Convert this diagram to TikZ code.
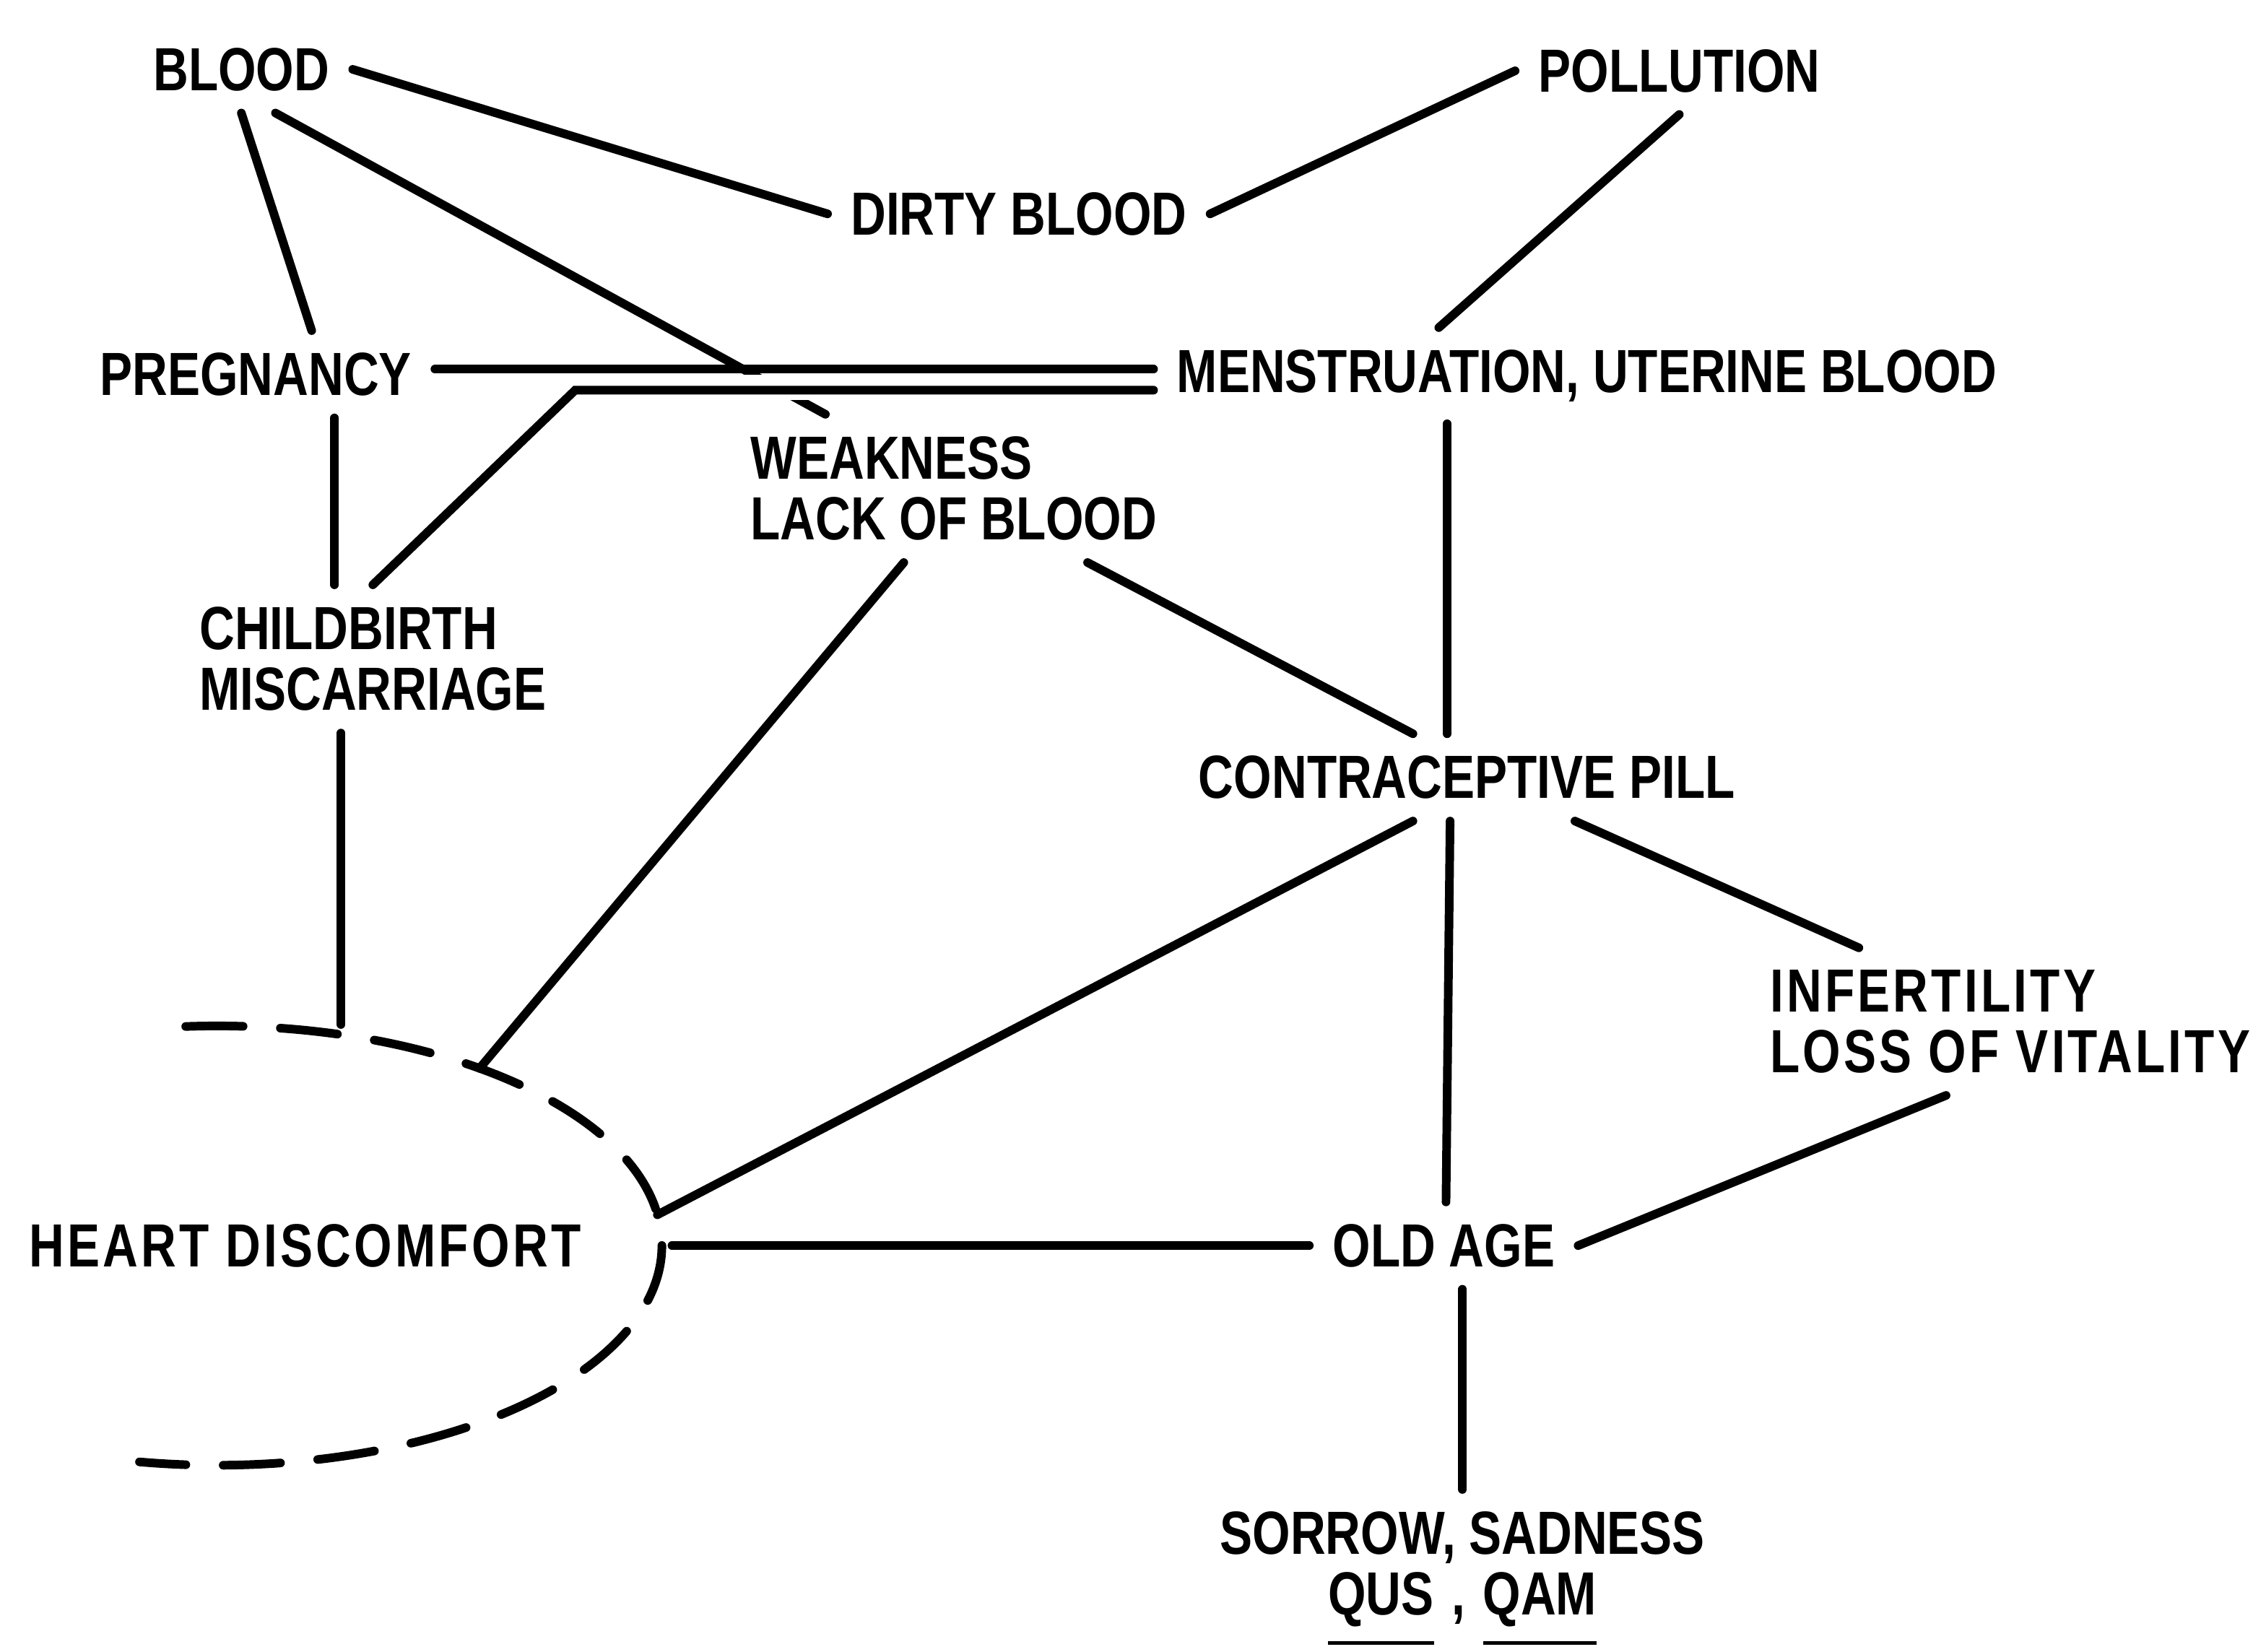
\documentclass[tikz,border=0pt]{standalone}
\usepackage{fontspec}
\setmainfont{Liberation Sans}[FakeStretch=0.8]
\newfontfamily\spacedfont{Liberation Sans}[FakeStretch=0.8,LetterSpace=5]
\usetikzlibrary{shapes.geometric}
\newsavebox{\myulbox}
\newcommand\myul[1]{\sbox{\myulbox}{#1}\smash{\rlap{\vrule height -10.2pt depth 11.8pt width \wd\myulbox}}\usebox{\myulbox}}
\begin{document}
\begin{tikzpicture}[x=0.02cm,y=-0.02cm,
  lbl/.style={font=\bfseries\fontsize{24}{24}\selectfont, inner xsep=9pt, inner ysep=8.5pt, align=left},
  slbl/.style={lbl, font=\spacedfont\bfseries\fontsize{24}{24}\selectfont},
  lnk/.style={line width=3.4pt, line cap=round},
  dashlnk/.style={line width=3.4pt, line cap=round, dash pattern=on 22.6pt off 14.7pt}]
\useasboundingbox (0,0) rectangle (1568,1143);
\node[lbl] (blood) at (167,48) {BLOOD};
\node[lbl] (pollution) at (1162,49) {POLLUTION};
\node[lbl] (dirty) at (705,148) {DIRTY BLOOD};
\node[lbl] (preg) at (177,259) {PREGNANCY};
\node[lbl] (mens) at (1098,260) {MENSTRUATION, UTERINE BLOOD};
\node[lbl] (weak) at (660,338) {WEAKNESS\\LACK OF BLOOD};
\node[lbl] (child) at (258,456) {CHILDBIRTH\\MISCARRIAGE};
\node[lbl] (pill) at (1015,538) {CONTRACEPTIVE PILL};
\node[slbl] (infert) at (1391,707) {INFERTILITY\\LOSS OF VITALITY};
\node[slbl] (heart) at (211,862) {HEART DISCOMFORT};
\node[lbl] (old) at (999,862) {OLD AGE};
\node[lbl, align=center] (sorrow) at (1012,1086) {SORROW, SADNESS\\\myul{QUS}\hspace{7pt},\hspace{7pt}\myul{QAM}};
\node[ellipse, minimum width=12.32cm, minimum height=6.08cm, inner sep=0pt, outer sep=0pt] (hell) at (150,862) {};
\coordinate (bend) at (398,270);
\coordinate (hcorner) at (236,709);
% connectors
\draw[lnk] (blood.east) -- (dirty.west);
\draw[lnk] (pollution.west) -- (dirty.east);
\draw[lnk] (blood.south) -- (preg.38);
\draw[lnk] (pollution.south) -- (mens.162);
\draw[lnk] (blood.-52) -- (weak.150);
\fill[white] (500,259.5) rectangle (575,277);
\draw[lnk] ([yshift=2pt]preg.east) -- ([yshift=2pt]preg.east -| mens.west);
\draw[lnk] (child.north) -- (bend) -- (bend -| mens.west);
\draw[lnk] (preg.-29) -- (preg.-29 |- child.north);
\draw[lnk] (child.south -| hcorner) -- (hcorner);
\draw[lnk] (weak.-124) -- (hell.34);
\draw[lnk] (weak.-29) -- (pill.141);
\draw[lnk] (mens.-161) -- (mens.-161 |- pill.north);
\draw[lnk] (pill.-141) -- (hell.4);
\draw[lnk] (pill.-111) -- (old.87);
\draw[lnk] (pill.-22) -- (infert.154);
\draw[lnk, shorten <=4pt] (hell.east) -- (old.west);
\draw[lnk] (infert.-131) -- (old.east);
\draw[lnk] (sorrow.north |- old.south) -- (sorrow.north);
\draw[dashlnk] (hell.center) ++(266:308 and 152) arc[start angle=266, end angle=460, x radius=308, y radius=152];
\end{tikzpicture}
\end{document}
